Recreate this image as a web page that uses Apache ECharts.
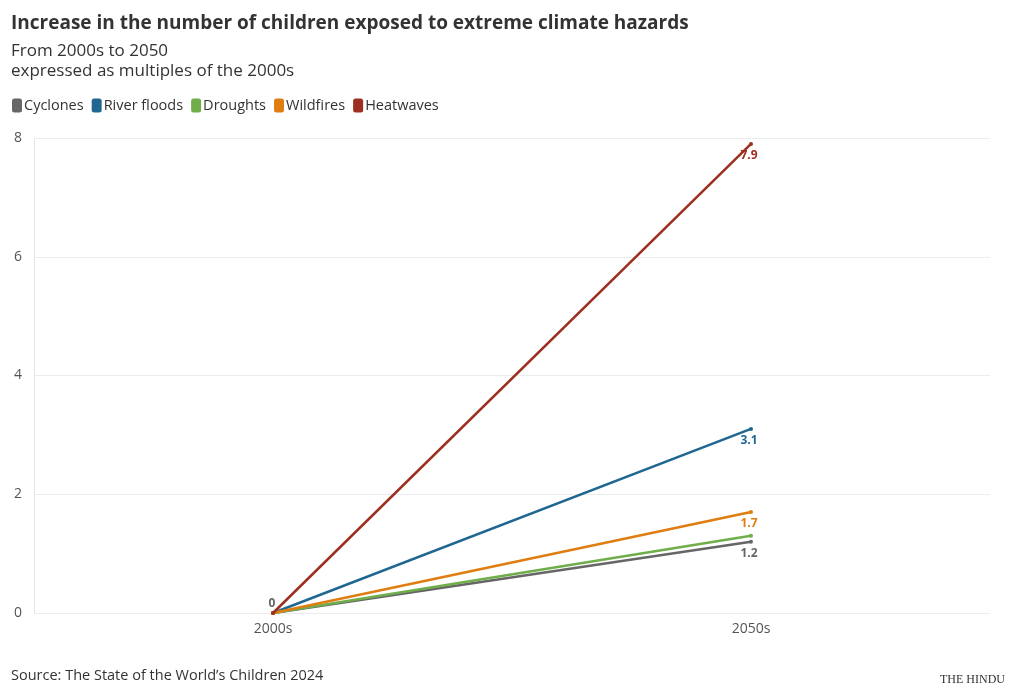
<!DOCTYPE html>
<html><head><meta charset="utf-8">
<script src="https://cdn.jsdelivr.net/npm/echarts@6/dist/echarts.min.js"></script>
<style>html,body{margin:0;padding:0;background:#fff}#c{width:1020px;height:700px}</style>
</head><body><div id="c"></div>
<script>
const categories = ['2000s', '2050s'];
const seriesNames = ['Cyclones', 'River floods', 'Droughts', 'Wildfires', 'Heatwaves'];
const cyclones = [0, 1.2];
const riverFloods = [0, 3.1];
const droughts = [0, 1.3];
const wildfires = [0, 1.7];
const heatwaves = [0, 7.9];
const yTicks = [0, 2, 4, 6, 8];
const colors = ['#666666', '#1f6791', '#6fae4b', '#e07d10', '#9c2f20'];
const values = [cyclones, riverFloods, droughts, wildfires, heatwaves];
const showEnd = [true, true, false, true, true];
const FONT = 'Open Sans';

const chart = echarts.init(document.getElementById('c'));
chart.setOption({
  animation: false,
  textStyle: { fontFamily: FONT },
  title: [
    { text: 'Increase in the number of children exposed to extreme climate hazards', left: 6, top: 9,
      textStyle: { fontSize: 19, fontWeight: 'bold', color: '#333', fontFamily: FONT } },
    { text: 'From 2000s to 2050\nexpressed as multiples of the 2000s', left: 6, top: 36,
      textStyle: { fontSize: 17, fontWeight: 'normal', color: '#333', lineHeight: 20, fontFamily: FONT } },
    { text: 'Source: The State of the World\u2019s Children 2024', left: 6, top: 663,
      textStyle: { fontSize: 14.5, fontWeight: 'normal', color: '#333', fontFamily: FONT } },
    { text: 'THE HINDU', right: 10, top: 669,
      textStyle: { fontSize: 12, fontWeight: 'normal', color: '#333', fontFamily: 'Liberation Serif' } }
  ],
  legend: {
    left: 7, top: 93, itemWidth: 10, itemHeight: 14, itemGap: 8, icon: 'roundRect',
    textStyle: { fontSize: 14.5, color: '#333', padding: [0, 0, 0, -3] },
    data: seriesNames
  },
  grid: { left: 34, right: 30, top: 138, bottom: 87, containLabel: false },
  xAxis: {
    type: 'category', data: categories, boundaryGap: true,
    axisLine: { show: false }, axisTick: { show: false },
    axisLabel: { color: '#555', fontSize: 14, margin: 9 },
    splitLine: { show: false }
  },
  yAxis: {
    type: 'value', min: yTicks[0], max: yTicks[yTicks.length - 1], interval: 2,
    axisLine: { show: true, lineStyle: { color: '#e6e6e6' } }, axisTick: { show: false },
    axisLabel: { color: '#555', fontSize: 14, margin: 12 },
    splitLine: { lineStyle: { color: '#ececec' } }
  },
  series: seriesNames.map((n, i) => ({
    name: n, type: 'line', data: values[i].map((v, j) => ({
      value: v,
      label: {
        show: (j === 1 && showEnd[i]) || (j === 0 && i === 0),
        position: j === 0 ? 'top' : 'bottom',
        offset: j === 0 ? [-1, 2] : [-2, 1]
      }
    })),
    color: colors[i], symbol: 'circle', symbolSize: 4, showSymbol: true,
    lineStyle: { width: 2.5, color: colors[i] },
    itemStyle: { color: colors[i] },
    label: { color: colors[i], fontSize: 12, fontWeight: 'bold', distance: 3 },
    z: 2 + i
  }))
});
</script></body></html>
